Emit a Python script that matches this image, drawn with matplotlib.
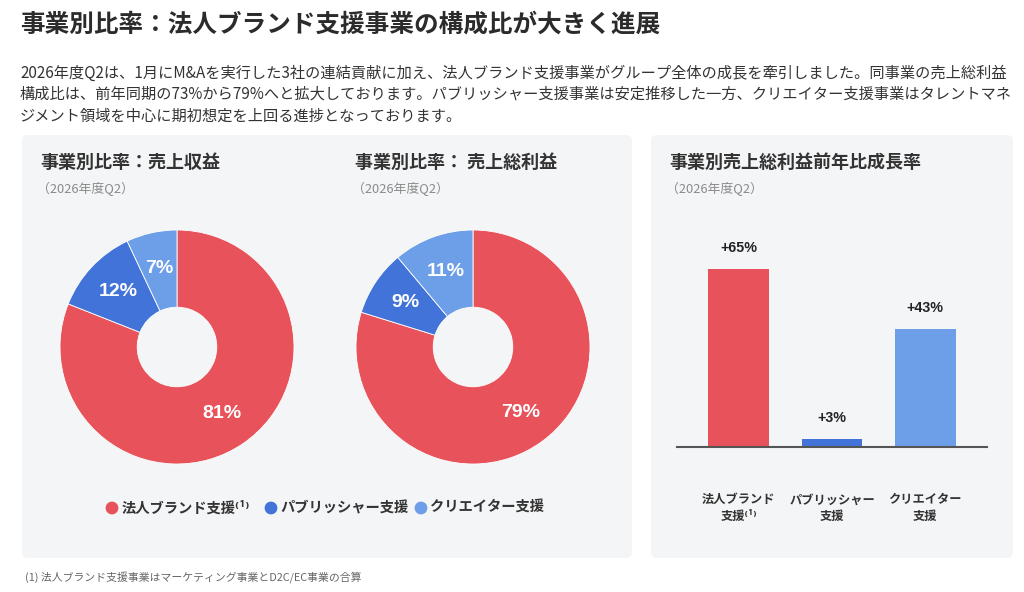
import matplotlib
matplotlib.use("Agg")
import numpy as np
import matplotlib.pyplot as plt
from matplotlib.patches import FancyBboxPatch

plt.rcParams["font.family"] = ["Noto Sans CJK JP", "DejaVu Sans"]

# ── Data ────────────────────────────────────────────────────────────
segments = ["法人ブランド支援", "パブリッシャー支援", "クリエイター支援"]
segment_marks = ["⁽¹⁾", "", ""]
revenue_share = [81, 12, 7]
gross_profit_share = [79, 9, 11]
growth_labels = ["法人ブランド\n支援", "パブリッシャー\n支援", "クリエイター\n支援"]
growth_yoy = [65, 3, 43]

colors = ["#E8525B", "#4273D9", "#6D9EE8"]
panel_bg = "#F4F5F7"
dark = "#2B2B2B"

title = "事業別比率：法人ブランド支援事業の構成比が大きく進展"
body = [
    "2026年度Q2は、1月にM&Aを実行した3社の連結貢献に加え、法人ブランド支援事業がグループ全体の成長を牽引しました。同事業の売上総利益",
    "構成比は、前年同期の73%から79%へと拡大しております。パブリッシャー支援事業は安定推移した一方、クリエイター支援事業はタレントマネ",
    "ジメント領域を中心に期初想定を上回る進捗となっております。",
]
footnote = "(1) 法人ブランド支援事業はマーケティング事業とD2C/EC事業の合算"
period = "（2026年度Q2）"

W, H = 1024, 592
fig = plt.figure(figsize=(W / 100, H / 100), dpi=100)


def px_axes(x0, y0, x1, y1, **kw):
    # pixel box (top-left origin) -> figure axes
    return fig.add_axes([x0 / W, 1 - y1 / H, (x1 - x0) / W, (y1 - y0) / H], **kw)


# ── Background layer in pixel coords ───────────────────────────────
bg = px_axes(0, 0, W, H)
bg.set_xlim(0, W)
bg.set_ylim(H, 0)
bg.axis("off")

for x0, x1 in [(22, 632), (651, 1013)]:
    bg.add_patch(FancyBboxPatch((x0, 135), x1 - x0, 423,
                                boxstyle="round,pad=0,rounding_size=6",
                                fc=panel_bg, ec="none"))

bg.text(20, 25, title, fontsize=17.7, fontweight="bold", color=dark, va="center")
for i, line in enumerate(body):
    bg.text(20, 73 + i * 21.5, line, fontsize=10.95, color="#333333", va="center")

for x, t in [(40, "事業別比率：売上収益"), (355, "事業別比率： 売上総利益"),
             (669, "事業別売上総利益前年比成長率")]:
    bg.text(x, 162, t, fontsize=13, fontweight="bold", color="#333333", va="center")
    bg.text(x - 3, 189, period, fontsize=9.3, color="#8A8A8A", va="center")

bg.text(25, 578, footnote, fontsize=7.8, color="#666666", va="center")

# legend
for (dx, tx), name, mark, c in zip([(112, 122), (271, 280), (421, 430)],
                                   segments, segment_marks, colors):
    bg.scatter([dx], [508], s=85, color=c, edgecolors="none")
    bg.text(tx, 508, name + mark, fontsize=10.3, fontweight="bold",
            color="#333333", va="center")

# ── Donuts ──────────────────────────────────────────────────────────
for cx, values in [(177, revenue_share), (473, gross_profit_share)]:
    ax = px_axes(cx - 117, 347 - 117, cx + 117, 347 + 117)
    ax.patch.set_alpha(0)
    wedges, _ = ax.pie(
        values, colors=colors, startangle=90, counterclock=False,
        wedgeprops=dict(width=0.66, edgecolor="white", linewidth=0.6),
    )
    for w, v in zip(wedges, values):
        mid = np.deg2rad((w.theta1 + w.theta2) / 2)
        ax.text(0.69 * np.cos(mid), 0.69 * np.sin(mid), f"{v}%",
                ha="center", va="center", color="white", fontsize=14,
                fontweight="bold", family=["Liberation Sans", "DejaVu Sans"])
    ax.set_xlim(-1, 1)
    ax.set_ylim(-1, 1)

# ── Growth bars ─────────────────────────────────────────────────────
bx = px_axes(677, 228, 987, 447)
bx.patch.set_alpha(0)
xs = range(len(growth_yoy))
bars = bx.bar(xs, growth_yoy, width=0.65, color=colors)
bx.set_xlim(-0.66, 2.66)
bx.set_ylim(0, 80)
bx.axhline(0, color="#555555", lw=1.5, clip_on=False)
for s in bx.spines.values():
    s.set_visible(False)
bx.set_xticks([])
bx.set_yticks([])

for x, v in zip(xs, growth_yoy):
    bx.annotate(f"+{v}%", (x, v), xytext=(0, 15), textcoords="offset points",
                ha="center", va="center", fontsize=10.3, fontweight="bold",
                color="#222222", family=["Liberation Sans", "DejaVu Sans"])

for x, lab, mark in zip(xs, growth_labels, segment_marks):
    first, second = lab.split("\n")
    bx.annotate(first, (x, 0), xytext=(0, -38), textcoords="offset points",
                ha="center", va="center", fontsize=8.8, fontweight="bold",
                color="#333333")
    bx.annotate(second + mark, (x, 0), xytext=(0, -50), textcoords="offset points",
                ha="center", va="center", fontsize=8.8, fontweight="bold",
                color="#333333")

fig.savefig("out.png", dpi=100)
